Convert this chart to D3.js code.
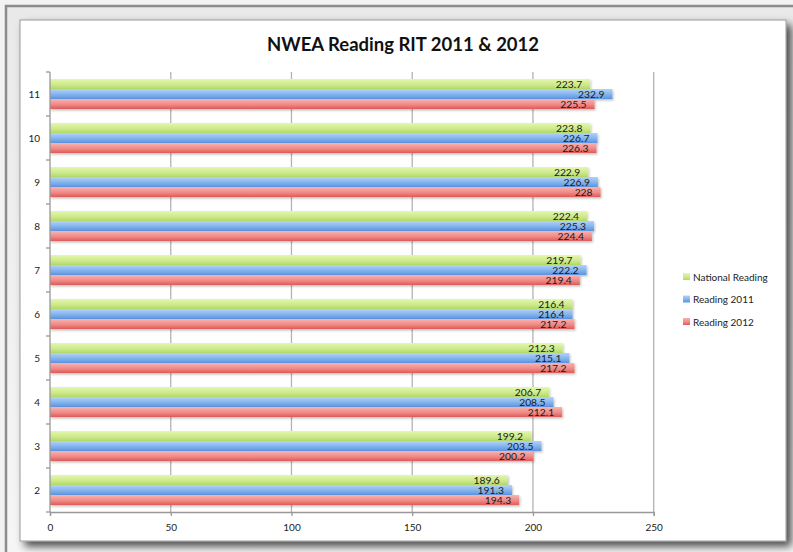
<!DOCTYPE html>
<html>
<head>
<meta charset="utf-8">
<script src="https://cdn.jsdelivr.net/npm/d3@7"></script>
<style>
  body { margin: 0; background: #f2f2f2; }
  svg { display: block; }
</style>
</head>
<body>
<svg id="chart" width="793" height="552"></svg>
<script>
// data (grades bottom to top)
var grades = ["2", "3", "4", "5", "6", "7", "8", "9", "10", "11"];
var national = [189.6, 199.2, 206.7, 212.3, 216.4, 219.7, 222.4, 222.9, 223.8, 223.7];
var reading2011 = [191.3, 203.5, 208.5, 215.1, 216.4, 222.2, 225.3, 226.9, 226.7, 232.9];
var reading2012 = [194.3, 200.2, 212.1, 217.2, 217.2, 219.4, 224.4, 228, 226.3, 225.5];
var seriesNames = ["National Reading", "Reading 2011", "Reading 2012"];
var xTicks = [0, 50, 100, 150, 200, 250];

var seriesValues = [national, reading2011, reading2012];
var colors = [
  ["#e4f7b0", "#cdea8c", "#b5d866"],
  ["#b2d3f7", "#83b3ee", "#5a93dd"],
  ["#f9b3b0", "#f08a86", "#dd5b57"]
];

var svg = d3.select("#chart"),
    font = "Lato, 'Open Sans', sans-serif";

var defs = svg.append("defs");
var sh = defs.append("filter").attr("id", "panelShadow")
    .attr("x", "-5%").attr("y", "-5%").attr("width", "115%").attr("height", "115%");
sh.append("feDropShadow").attr("dx", 5).attr("dy", 5).attr("stdDeviation", 4)
    .attr("flood-color", "#000").attr("flood-opacity", 0.7);
var bsh = defs.append("filter").attr("id", "barShadow")
    .attr("x", "-5%").attr("y", "-30%").attr("width", "110%").attr("height", "180%");
bsh.append("feDropShadow").attr("dx", 1).attr("dy", 1.5).attr("stdDeviation", 1)
    .attr("flood-color", "#000").attr("flood-opacity", 0.25);

var frameGrad = defs.append("linearGradient").attr("id", "frameGrad")
    .attr("x1", 0).attr("y1", 0).attr("x2", 0).attr("y2", 1);
frameGrad.append("stop").attr("offset", "0%").attr("stop-color", "#e9e9e9");
frameGrad.append("stop").attr("offset", "100%").attr("stop-color", "#f6f6f6");

colors.forEach(function(c, i) {
  var g = defs.append("linearGradient").attr("id", "bar" + i)
      .attr("x1", 0).attr("y1", 0).attr("x2", 0).attr("y2", 1);
  g.append("stop").attr("offset", "0%").attr("stop-color", c[0]);
  g.append("stop").attr("offset", "55%").attr("stop-color", c[1]);
  g.append("stop").attr("offset", "100%").attr("stop-color", c[2]);
});

// frame
svg.append("rect").attr("x", 6).attr("y", 6).attr("width", 800).attr("height", 560)
    .attr("fill", "url(#frameGrad)").attr("stroke", "#8c8c8c").attr("stroke-width", 2.5);
svg.append("rect").attr("x", 20).attr("y", 20).attr("width", 766).attr("height", 521)
    .attr("fill", "#fff").attr("stroke", "#9a9a9a").attr("stroke-width", 1)
    .attr("filter", "url(#panelShadow)");

var margin = {top: 72, left: 50},
    width = 603.7,
    height = 440;

var g = svg.append("g").attr("transform", "translate(" + margin.left + "," + margin.top + ")");

var x = d3.scaleLinear().domain([0, 250]).range([0, width]);
var y0 = d3.scaleBand().domain(grades).range([height, 0])
    .paddingInner(0.318).paddingOuter(0.159);
var y1 = d3.scaleBand().domain(seriesNames).range([0, y0.bandwidth()]);

// gridlines
g.append("g").selectAll("line").data(xTicks.slice(1)).enter().append("line")
    .attr("x1", function(d) { return x(d); }).attr("x2", function(d) { return x(d); })
    .attr("y1", 0).attr("y2", height)
    .attr("stroke", "#b3b3b3").attr("stroke-width", 1.3);

// bars
var rows = grades.map(function(gr, i) {
  return seriesNames.map(function(s, j) { return {grade: gr, series: s, idx: j, value: seriesValues[j][i]}; });
});

var grp = g.append("g").selectAll("g").data(rows).enter().append("g")
    .attr("transform", function(d) { return "translate(0," + y0(d[0].grade) + ")"; });

grp.selectAll("rect").data(function(d) { return d; }).enter().append("rect")
    .attr("x", 0)
    .attr("y", function(d) { return y1(d.series); })
    .attr("width", function(d) { return x(d.value); })
    .attr("height", y1.bandwidth())
    .attr("fill", function(d) { return "url(#bar" + d.idx + ")"; })
    .attr("filter", "url(#barShadow)");

grp.selectAll("text").data(function(d) { return d; }).enter().append("text")
    .attr("x", function(d) { return x(d.value) - 8; })
    .attr("y", function(d) { return y1(d.series) + y1.bandwidth() / 2 + 3.8; })
    .attr("text-anchor", "end")
    .attr("font-family", font).attr("font-size", 10.3).attr("fill", "#1a1a1a")
    .text(function(d) { return d.value; });

// y axis
var yAxis = g.append("g");
yAxis.append("line").attr("x1", 0).attr("x2", 0).attr("y1", 0).attr("y2", height)
    .attr("stroke", "#999").attr("stroke-width", 1.3);
var step = y0.step();
var bounds = grades.map(function(d) { return y0(d) - y0.paddingInner() * step / 2; });
bounds.push(y0(grades[0]) + y0.bandwidth() + y0.paddingInner() * step / 2);
yAxis.selectAll(".tk").data(bounds).enter().append("line")
    .attr("x1", -4).attr("x2", 0)
    .attr("y1", function(d) { return d; }).attr("y2", function(d) { return d; })
    .attr("stroke", "#999").attr("stroke-width", 1.3);
yAxis.selectAll(".lbl").data(grades).enter().append("text")
    .attr("x", -10)
    .attr("y", function(d) { return y0(d) + y0.bandwidth() / 2 + 4; })
    .attr("text-anchor", "end")
    .attr("font-family", font).attr("font-size", 10).attr("fill", "#222")
    .text(function(d) { return d; });

// x axis
var xAxis = d3.axisBottom(x).tickValues(xTicks).tickSize(4).tickPadding(8);
g.append("g").attr("transform", "translate(0," + height + ")").call(customXAxis);

function customXAxis(a) {
  a.call(xAxis);
  a.select(".domain").attr("stroke", "#999").attr("stroke-width", 1.3);
  a.selectAll(".tick line").attr("stroke", "#999").attr("stroke-width", 1.3);
  a.selectAll(".tick text").attr("fill", "#222").attr("font-family", font).attr("font-size", 10);
}

// title
svg.append("text").attr("x", 403).attr("y", 51).attr("text-anchor", "middle")
    .attr("font-family", font).attr("font-weight", "bold").attr("font-size", 18.5).attr("fill", "#111")
    .text("NWEA Reading RIT 2011 & 2012");

// legend
var legend = svg.append("g").attr("transform", "translate(683,277)");
var li = legend.selectAll("g").data(seriesNames).enter().append("g")
    .attr("transform", function(d, i) { return "translate(0," + (i * 22.5) + ")"; });
li.append("rect").attr("x", 0).attr("y", -4).attr("width", 7).attr("height", 7)
    .attr("fill", function(d, i) { return "url(#bar" + i + ")"; });
li.append("text").attr("x", 10).attr("y", 3.5)
    .attr("font-family", font).attr("font-size", 10).attr("fill", "#222")
    .text(function(d) { return d; });
</script>
</body>
</html>
